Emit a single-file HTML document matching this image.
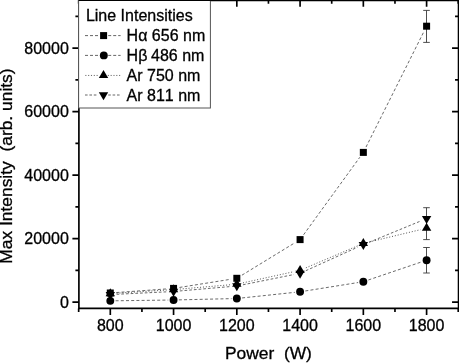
<!DOCTYPE html>
<html><head><meta charset="utf-8"><title>Line Intensities</title>
<style>html,body{margin:0;padding:0;background:#fff;overflow:hidden}text{font-kerning:none}</style></head>
<body>
<svg width="459" height="363" viewBox="0 0 459 363" style="display:block">
<rect width="459" height="363" fill="#fff"/>
<g stroke="#000" stroke-width="1.67" fill="none" stroke-linecap="butt">
<path d="M78.9 0.35H459.55M78.9 308.4H459.35M78.9 0.35V309.2M458.55 0.35V308.4"/>
<path d="M78.67 308.4v3.5M78.67 0.35v3.5M110.30 308.4v6.5M110.30 0.35v6.5M141.93 308.4v3.5M141.93 0.35v3.5M173.56 308.4v6.5M173.56 0.35v6.5M205.19 308.4v3.5M205.19 0.35v3.5M236.82 308.4v6.5M236.82 0.35v6.5M268.45 308.4v3.5M268.45 0.35v3.5M300.08 308.4v6.5M300.08 0.35v6.5M331.71 308.4v3.5M331.71 0.35v3.5M363.34 308.4v6.5M363.34 0.35v6.5M394.97 308.4v3.5M394.97 0.35v3.5M426.60 308.4v6.5M426.60 0.35v6.5M458.23 308.4v3.5M458.23 0.35v3.5M78.9 302.05h-6.5M458.55 302.05h-6.5M78.9 270.30h-3.5M458.55 270.30h-3.5M78.9 238.55h-6.5M458.55 238.55h-6.5M78.9 206.80h-3.5M458.55 206.80h-3.5M78.9 175.05h-6.5M458.55 175.05h-6.5M78.9 143.30h-3.5M458.55 143.30h-3.5M78.9 111.55h-6.5M458.55 111.55h-6.5M78.9 79.80h-3.5M458.55 79.80h-3.5M78.9 48.05h-6.5M458.55 48.05h-6.5M78.9 16.30h-3.5M458.55 16.30h-3.5"/>
</g>
<path d="M116.28 292.56L167.58 288.84M179.48 287.45L230.90 279.25M241.94 275.17L294.96 242.73M303.60 234.74L359.82 157.26M366.03 147.04L423.91 31.56" stroke="#2a2a2a" stroke-width="0.7" stroke-dasharray="3 2.2" fill="none"/>
<path d="M115.60 300.78L168.26 300.07M178.86 299.87L231.52 298.63M242.09 297.94L294.81 292.36M305.31 290.96L358.11 282.54M368.36 279.99L421.58 261.91" stroke="#2a2a2a" stroke-width="0.7" stroke-dasharray="3 2.2" fill="none"/>
<path d="M116.59 293.20L167.27 290.00M179.84 289.06L230.54 284.74M242.97 282.85L293.93 271.65M305.88 267.83L357.54 245.87M369.47 241.93L420.47 229.67" stroke="#2a2a2a" stroke-width="0.8" stroke-dasharray="1 1.9" fill="none"/>
<path d="M116.59 294.29L167.27 291.81M179.84 290.95L230.54 286.55M243.00 284.76L293.90 274.54M305.82 270.70L357.60 247.20M369.17 242.21L420.77 220.99" stroke="#2a2a2a" stroke-width="0.7" stroke-dasharray="2.7 2" fill="none"/>
<path d="M426.50 10.4V42.4M423.20 10.4h6.6M423.20 42.4h6.6" stroke="#3a3a3a" stroke-width="0.9" fill="none"/>
<path d="M426.50 207.7V239.6M423.20 207.7h6.6M423.20 239.6h6.6" stroke="#3a3a3a" stroke-width="0.9" fill="none"/>
<path d="M426.50 247.5V273.0M423.20 247.5h6.6M423.20 273.0h6.6" stroke="#3a3a3a" stroke-width="0.9" fill="none"/>
<rect x="106.80" y="289.50" width="7.0" height="7.0" fill="#000"/>
<circle cx="110.30" cy="300.85" r="3.95" fill="#000"/>
<path d="M110.30 288.27L115.00 296.27H105.60Z" fill="#000"/>
<path d="M110.30 299.93L115.00 291.93H105.60Z" fill="#000"/>
<rect x="170.06" y="284.90" width="7.0" height="7.0" fill="#000"/>
<circle cx="173.56" cy="300.00" r="3.95" fill="#000"/>
<path d="M173.56 284.27L178.26 292.27H168.86Z" fill="#000"/>
<path d="M173.56 296.83L178.26 288.83H168.86Z" fill="#000"/>
<rect x="233.32" y="274.80" width="7.0" height="7.0" fill="#000"/>
<circle cx="236.82" cy="298.50" r="3.95" fill="#000"/>
<path d="M236.82 278.87L241.52 286.87H232.12Z" fill="#000"/>
<path d="M236.82 291.33L241.52 283.33H232.12Z" fill="#000"/>
<rect x="296.58" y="236.10" width="7.0" height="7.0" fill="#000"/>
<circle cx="300.08" cy="291.80" r="3.95" fill="#000"/>
<path d="M300.08 264.97L304.78 272.97H295.38Z" fill="#000"/>
<path d="M300.08 278.63L304.78 270.63H295.38Z" fill="#000"/>
<rect x="359.84" y="148.90" width="7.0" height="7.0" fill="#000"/>
<circle cx="363.34" cy="281.70" r="3.95" fill="#000"/>
<path d="M363.34 238.07L368.04 246.07H358.64Z" fill="#000"/>
<path d="M363.34 249.93L368.04 241.93H358.64Z" fill="#000"/>
<rect x="423.10" y="22.70" width="7.0" height="7.0" fill="#000"/>
<circle cx="426.60" cy="260.20" r="3.95" fill="#000"/>
<path d="M426.60 222.87L431.30 230.87H421.90Z" fill="#000"/>
<path d="M426.60 223.93L431.30 215.93H421.90Z" fill="#000"/>
<rect x="78.6" y="0.3" width="131.8" height="107.7" fill="#fff" stroke="#555" stroke-width="1"/>
<path d="M78.6 0.4H210.9" stroke="#000" stroke-width="1.2"/>
<path d="M85 35.6H98M108.2 35.6H120.6" stroke="#333" stroke-width="0.75" stroke-dasharray="3 2" fill="none"/>
<path d="M85 55.4H98M108.2 55.4H120.6" stroke="#333" stroke-width="0.75" stroke-dasharray="3 2" fill="none"/>
<path d="M85.3 75.45H98M107.8 75.45H120.2" stroke="#333" stroke-width="0.75" stroke-dasharray="1.1 1.72" fill="none"/>
<path d="M85 95.0H98M108.2 95.0H120.6" stroke="#333" stroke-width="0.75" stroke-dasharray="2.6 1.8" fill="none"/>
<rect x="100.10" y="32.10" width="7.0" height="7.0" fill="#000"/>
<circle cx="103.80" cy="55.40" r="3.95" fill="#000"/>
<path d="M103.50 70.12L108.20 78.12H98.80Z" fill="#000"/>
<path d="M103.50 100.33L108.20 92.33H98.80Z" fill="#000"/>
<g font-family="'Liberation Sans', Arial, sans-serif" font-size="16px" fill="#000" stroke="#000" stroke-width="0.3">
<text x="85.9" y="21">Line Intensities</text>
<text x="126.6" y="41.2">Hα 656 nm</text>
<text x="126.6" y="61.0">Hβ<tspan dx="-0.8"> 486 nm</tspan></text>
<text x="126.6" y="80.9">Ar 750 nm</text>
<text x="126.6" y="100.6">Ar 811 nm</text>
<text x="110.30" y="331" text-anchor="middle">800</text>
<text x="173.56" y="331" text-anchor="middle">1000</text>
<text x="236.82" y="331" text-anchor="middle">1200</text>
<text x="300.08" y="331" text-anchor="middle">1400</text>
<text x="363.34" y="331" text-anchor="middle">1600</text>
<text x="426.60" y="331" text-anchor="middle">1800</text>
<text x="68.8" y="307.65" text-anchor="end">0</text>
<text x="68.8" y="244.15" text-anchor="end">20000</text>
<text x="68.8" y="180.65" text-anchor="end">40000</text>
<text x="68.8" y="117.15" text-anchor="end">60000</text>
<text x="68.8" y="53.65" text-anchor="end">80000</text>
</g>
<g font-family="'Liberation Sans', Arial, sans-serif" font-size="17.42px" fill="#000" stroke="#000" stroke-width="0.3">
<text x="268.4" y="358.8" text-anchor="middle" xml:space="preserve">Power  (W)</text>
<text transform="translate(11.5 166.1) rotate(-90)" text-anchor="middle" xml:space="preserve">Max Intensity  (arb. units)</text>
</g>
</svg>
</body></html>
